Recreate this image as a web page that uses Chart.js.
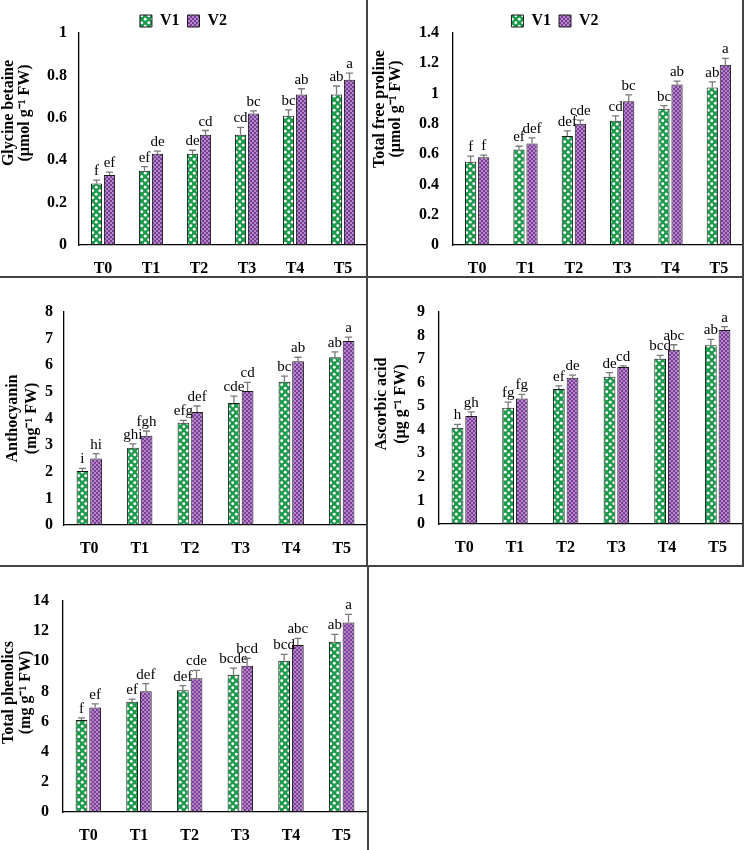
<!DOCTYPE html>
<html>
<head>
<meta charset="utf-8">
<script src="https://cdn.jsdelivr.net/npm/chart.js@4.4.0/dist/chart.umd.min.js"></script>
<style>
  body { margin: 0; background: #fff; width: 744px; height: 850px; position: relative; overflow: hidden; }
  .panel { position: absolute; }
  .rule { position: absolute; background: #444; }
</style>
</head>
<body>
<div class="panel" style="left:0;top:0;width:367px;height:276px"><canvas id="gb"></canvas></div>
<div class="panel" style="left:367px;top:0;width:376px;height:276px"><canvas id="pr"></canvas></div>
<div class="panel" style="left:0;top:278px;width:367px;height:287px"><canvas id="an"></canvas></div>
<div class="panel" style="left:367px;top:278px;width:376px;height:287px"><canvas id="as"></canvas></div>
<div class="panel" style="left:0;top:567px;width:367px;height:283px"><canvas id="ph"></canvas></div>

<div class="rule" style="left:0;top:276px;width:743px;height:1.5px"></div>
<div class="rule" style="left:0;top:565px;width:743px;height:1.5px"></div>
<div class="rule" style="left:366px;top:0;width:1.5px;height:566px"></div>
<div class="rule" style="left:367px;top:566px;width:1.5px;height:284px"></div>
<div class="rule" style="left:742px;top:0;width:1.5px;height:567px"></div>

<script>
const treatments = ['T0', 'T1', 'T2', 'T3', 'T4', 'T5'];

// Glycine betaine (µmol g-1 FW)
const gbV1 = [0.29, 0.35, 0.43, 0.52, 0.61, 0.71];
const gbV2 = [0.33, 0.43, 0.52, 0.62, 0.71, 0.78];
const gbE1 = [0.016, 0.02, 0.017, 0.035, 0.027, 0.04];
const gbE2 = [0.014, 0.013, 0.02, 0.013, 0.027, 0.031];
const gbL1 = ['f', 'ef', 'de', 'cd', 'bc', 'ab'];
const gbL2 = ['ef', 'de', 'cd', 'bc', 'ab', 'a'];

// Total free proline (µmol g-1 FW)
const prV1 = [0.55, 0.63, 0.72, 0.82, 0.90, 1.04];
const prV2 = [0.58, 0.67, 0.80, 0.95, 1.06, 1.19];
const prE1 = [0.037, 0.022, 0.033, 0.033, 0.02, 0.037];
const prE2 = [0.013, 0.037, 0.024, 0.042, 0.022, 0.042];
const prL1 = ['f', 'ef', 'def', 'cd', 'bc', 'ab'];
const prL2 = ['f', 'def', 'cde', 'bc', 'ab', 'a'];

// Anthocyanin (mg-1 FW)
const anV1 = [2.03, 2.9, 3.84, 4.58, 5.38, 6.3];
const anV2 = [2.5, 3.35, 4.24, 5.03, 6.15, 6.91];
const anE1 = [0.1, 0.15, 0.09, 0.26, 0.21, 0.2];
const anE2 = [0.18, 0.18, 0.23, 0.33, 0.15, 0.15];
const anL1 = ['i', 'ghi', 'efg', 'cde', 'bc', 'ab'];
const anL2 = ['hi', 'fgh', 'def', 'cd', 'ab', 'a'];

// Ascorbic acid (µg g-1 FW)
const asV1 = [4.09, 4.94, 5.73, 6.25, 7.02, 7.59];
const asV2 = [4.58, 5.33, 6.21, 6.67, 7.4, 8.24];
const asE1 = [0.14, 0.23, 0.13, 0.18, 0.14, 0.25];
const asE2 = [0.18, 0.17, 0.11, 0.04, 0.21, 0.14];
const asL1 = ['h', 'fg', 'ef', 'de', 'bcd', 'ab'];
const asL2 = ['gh', 'fg', 'de', 'cd', 'abc', 'a'];

// Total phenolics (mg g-1 FW)
const phV1 = [6.11, 7.31, 8.08, 9.1, 10.04, 11.3];
const phV2 = [6.93, 8.01, 8.87, 9.71, 11.08, 12.58];
const phE1 = [0.13, 0.18, 0.31, 0.44, 0.42, 0.49];
const phE2 = [0.24, 0.51, 0.53, 0.49, 0.44, 0.53];
const phL1 = ['f', 'ef', 'def', 'bcde', 'bcd', 'ab'];
const phL2 = ['ef', 'def', 'cde', 'bcd', 'abc', 'a'];

const serif = '"Liberation Serif", "Times New Roman", serif';

// pattern fills like the excel ones
function dotPattern(bg, size, r, pts) {
  const c = document.createElement('canvas');
  c.width = size; c.height = size;
  const g = c.getContext('2d');
  g.fillStyle = bg;
  g.fillRect(0, 0, size, size);
  g.fillStyle = '#fff';
  pts.forEach(p => { g.beginPath(); g.arc(p[0], p[1], r, 0, Math.PI * 2); g.fill(); });
  return g.createPattern(c, 'repeat');
}
const patV1 = dotPattern('#1c9a4c', 7, 1.45, [[1.75, 1.75], [5.25, 5.25]]);
const patV2 = dotPattern('#7d3c9c', 4, 0.75, [[1, 1], [3, 3]]);

// excel puts the axis titles a bit above the middle; nbsp at the start lifts the rotated text
const lift = (lines, px) => lines.map(t => '\u00A0'.repeat(Math.round(px / 2)) + t);

// error bars + significance letters
const errorBars = {
  id: 'errorBars',
  afterDatasetsDraw(chart) {
    const ctx = chart.ctx;
    const y = chart.scales.y;
    chart.data.datasets.forEach((ds, i) => {
      chart.getDatasetMeta(i).data.forEach((bar, j) => {
        const top = y.getPixelForValue(ds.data[j] + ds.errors[j]);
        ctx.save();
        ctx.strokeStyle = '#7a7a7a';
        ctx.lineWidth = 1.3;
        ctx.beginPath();
        ctx.moveTo(bar.x, bar.y);
        ctx.lineTo(bar.x, top);
        ctx.moveTo(bar.x - 3.5, top);
        ctx.lineTo(bar.x + 3.5, top);
        ctx.stroke();
        ctx.fillStyle = '#000';
        ctx.font = '15px ' + serif;
        ctx.textAlign = 'center';
        ctx.textBaseline = 'alphabetic';
        ctx.fillText(ds.letters[j], bar.x, top - 5);
        ctx.restore();
      });
    });
  }
};

// keep the legend strip a fixed height so the plot top lines up
const legendFix = {
  id: 'legendFix',
  afterInit(chart) {
    const lg = chart.legend;
    if (!lg) return;
    const h = chart.options.plugins.legendFix.h;
    const fit = lg.fit;
    lg.fit = function () { fit.call(this); if (this.options.display) this.height = h; };
  }
};

function makeChart(id, o) {
  const bar = { categoryPercentage: 0.54, barPercentage: 0.86, borderColor: '#1a1a1a', borderWidth: 1, borderSkipped: false };
  new Chart(document.getElementById(id), {
    type: 'bar',
    data: {
      labels: treatments,
      datasets: [
        Object.assign({ label: 'V1', data: o.v1, errors: o.e1, letters: o.l1, backgroundColor: patV1 }, bar),
        Object.assign({ label: 'V2', data: o.v2, errors: o.e2, letters: o.l2, backgroundColor: patV2 }, bar)
      ]
    },
    options: {
      responsive: true,
      maintainAspectRatio: false,
      animation: false,
      layout: { padding: { top: o.legend ? 5 : o.top, left: 0, right: 0, bottom: 0 } },
      plugins: {
        legend: {
          display: o.legend,
          labels: { color: '#000', font: { family: serif, size: 16, weight: 'bold' }, boxWidth: 12, boxHeight: 12, padding: 8 }
        },
        legendFix: { h: o.top - 5 },
        tooltip: { enabled: false }
      },
      scales: {
        x: {
          grid: { display: false },
          border: { color: '#000', width: 1.3 },
          ticks: { color: '#000', font: { family: serif, size: 16, weight: 'bold' }, padding: 6 },
          afterFit: s => { s.height = o.bottom; }
        },
        y: {
          min: 0,
          max: o.max,
          grid: { display: false, drawTicks: false },
          border: { color: '#000', width: 1.3 },
          ticks: {
            stepSize: o.step, color: '#000', font: { family: serif, size: 16, weight: 'bold' }, padding: o.tickPad,
            callback: v => String(+v.toFixed(1))
          },
          title: {
            display: true,
            text: lift(o.title, o.titleLift),
            color: '#000',
            font: { family: serif, size: 16, weight: 'bold', lineHeight: o.titleLH },
            padding: { top: o.titlePad, bottom: 0 }
          },
          afterFit: s => { s.width = o.left; }
        }
      }
    },
    plugins: [errorBars, legendFix]
  });
}

makeChart('gb', { v1: gbV1, v2: gbV2, e1: gbE1, e2: gbE2, l1: gbL1, l2: gbL2, max: 1, step: 0.2,
  title: ['Glycine betaine', '(µmol g⁻¹ FW)'], titleLift: 26, legend: true, top: 33, bottom: 31, left: 79, tickPad: 12, titleLH: 1.05, titlePad: 0 });
makeChart('pr', { v1: prV1, v2: prV2, e1: prE1, e2: prE2, l1: prL1, l2: prL2, max: 1.4, step: 0.2,
  title: ['Total free proline', '(µmol g⁻¹ FW)'], titleLift: 30, legend: true, top: 33, bottom: 31, left: 86, tickPad: 14, titleLH: 1.0, titlePad: 5 });
makeChart('an', { v1: anV1, v2: anV2, e1: anE1, e2: anE2, l1: anL1, l2: anL2, max: 8, step: 1,
  title: ['Anthocyanin', '(mg⁻¹ FW)'], titleLift: 0, legend: false, top: 34, bottom: 40, left: 64, tickPad: 11, titleLH: 1.2, titlePad: 3 });
makeChart('as', { v1: asV1, v2: asV2, e1: asE1, e2: asE2, l1: asL1, l2: asL2, max: 9, step: 1,
  title: ['Ascorbic acid', '(µg g⁻¹ FW)'], titleLift: 14, legend: false, top: 34, bottom: 41, left: 72, tickPad: 14, titleLH: 1.15, titlePad: 6 });
makeChart('ph', { v1: phV1, v2: phV2, e1: phE1, e2: phE2, l1: phL1, l2: phL2, max: 14, step: 2,
  title: ['Total phenolics', '(mg g⁻¹ FW)'], titleLift: 14, legend: false, top: 34, bottom: 38, left: 63, tickPad: 14, titleLH: 1.08, titlePad: 0 });
</script>
</body>
</html>
